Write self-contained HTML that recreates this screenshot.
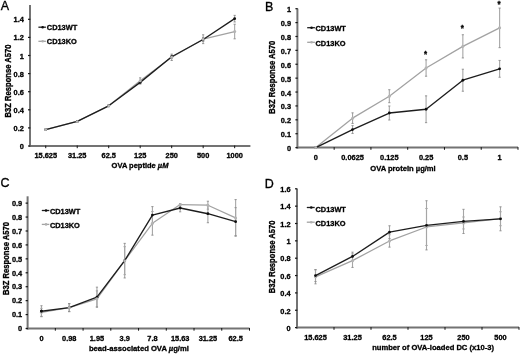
<!DOCTYPE html>
<html><head><meta charset="utf-8"><style>
html,body{margin:0;padding:0;background:#fff;}
body{width:520px;height:354px;overflow:hidden;}
svg{display:block;font-family:"Liberation Sans", sans-serif;will-change:transform;}
</style></head><body>
<svg width="520" height="354" viewBox="0 0 520 354">
<defs><filter id="soft" x="0" y="0" width="100%" height="100%"><feGaussianBlur stdDeviation="0.3"/></filter></defs>
<rect width="520" height="354" fill="#fff"/>
<g filter="url(#soft)">
<rect width="520" height="354" fill="#fff"/>
<text transform="translate(0.80,10.10) scale(1,1.06)" font-size="12.5" stroke="#000" stroke-width="0.3">A</text>
<line x1="30.00" y1="4.90" x2="30.00" y2="147.00" stroke="#737373" stroke-width="2.0"/>
<line x1="29.00" y1="146.00" x2="250.40" y2="146.00" stroke="#737373" stroke-width="2.0"/>
<line x1="28.00" y1="146.00" x2="30.30" y2="146.00" stroke="#151515" stroke-width="1.2"/>
<text transform="translate(23.80,149.05) scale(1,1.08)" font-size="7.4" font-weight="bold" text-anchor="end"  stroke="#000" stroke-width="0.3">0</text>
<line x1="28.00" y1="127.90" x2="30.30" y2="127.90" stroke="#151515" stroke-width="1.2"/>
<text transform="translate(23.80,130.95) scale(1,1.08)" font-size="7.4" font-weight="bold" text-anchor="end"  stroke="#000" stroke-width="0.3">0.2</text>
<line x1="28.00" y1="109.80" x2="30.30" y2="109.80" stroke="#151515" stroke-width="1.2"/>
<text transform="translate(23.80,112.85) scale(1,1.08)" font-size="7.4" font-weight="bold" text-anchor="end"  stroke="#000" stroke-width="0.3">0.4</text>
<line x1="28.00" y1="91.70" x2="30.30" y2="91.70" stroke="#151515" stroke-width="1.2"/>
<text transform="translate(23.80,94.75) scale(1,1.08)" font-size="7.4" font-weight="bold" text-anchor="end"  stroke="#000" stroke-width="0.3">0.6</text>
<line x1="28.00" y1="73.60" x2="30.30" y2="73.60" stroke="#151515" stroke-width="1.2"/>
<text transform="translate(23.80,76.65) scale(1,1.08)" font-size="7.4" font-weight="bold" text-anchor="end"  stroke="#000" stroke-width="0.3">0.8</text>
<line x1="28.00" y1="55.50" x2="30.30" y2="55.50" stroke="#151515" stroke-width="1.2"/>
<text transform="translate(23.80,58.55) scale(1,1.08)" font-size="7.4" font-weight="bold" text-anchor="end"  stroke="#000" stroke-width="0.3">1</text>
<line x1="28.00" y1="37.40" x2="30.30" y2="37.40" stroke="#151515" stroke-width="1.2"/>
<text transform="translate(23.80,40.45) scale(1,1.08)" font-size="7.4" font-weight="bold" text-anchor="end"  stroke="#000" stroke-width="0.3">1.2</text>
<line x1="28.00" y1="19.30" x2="30.30" y2="19.30" stroke="#151515" stroke-width="1.2"/>
<text transform="translate(23.80,22.35) scale(1,1.08)" font-size="7.4" font-weight="bold" text-anchor="end"  stroke="#000" stroke-width="0.3">1.4</text>
<line x1="45.74" y1="145.50" x2="45.74" y2="148.20" stroke="#151515" stroke-width="1.0"/>
<line x1="77.23" y1="145.50" x2="77.23" y2="148.20" stroke="#151515" stroke-width="1.0"/>
<line x1="108.71" y1="145.50" x2="108.71" y2="148.20" stroke="#151515" stroke-width="1.0"/>
<line x1="140.20" y1="145.50" x2="140.20" y2="148.20" stroke="#151515" stroke-width="1.0"/>
<line x1="171.69" y1="145.50" x2="171.69" y2="148.20" stroke="#151515" stroke-width="1.0"/>
<line x1="203.17" y1="145.50" x2="203.17" y2="148.20" stroke="#151515" stroke-width="1.0"/>
<line x1="234.66" y1="145.50" x2="234.66" y2="148.20" stroke="#151515" stroke-width="1.0"/>
<text transform="translate(45.74,157.80) scale(1,1.08)" font-size="7.4" font-weight="bold" text-anchor="middle"  stroke="#000" stroke-width="0.3">15.625</text>
<text transform="translate(77.23,157.80) scale(1,1.08)" font-size="7.4" font-weight="bold" text-anchor="middle"  stroke="#000" stroke-width="0.3">31.25</text>
<text transform="translate(108.71,157.80) scale(1,1.08)" font-size="7.4" font-weight="bold" text-anchor="middle"  stroke="#000" stroke-width="0.3">62.5</text>
<text transform="translate(140.20,157.80) scale(1,1.08)" font-size="7.4" font-weight="bold" text-anchor="middle"  stroke="#000" stroke-width="0.3">125</text>
<text transform="translate(171.69,157.80) scale(1,1.08)" font-size="7.4" font-weight="bold" text-anchor="middle"  stroke="#000" stroke-width="0.3">250</text>
<text transform="translate(203.17,157.80) scale(1,1.08)" font-size="7.4" font-weight="bold" text-anchor="middle"  stroke="#000" stroke-width="0.3">500</text>
<text transform="translate(234.66,157.80) scale(1,1.08)" font-size="7.4" font-weight="bold" text-anchor="middle"  stroke="#000" stroke-width="0.3">1000</text>
<text transform="translate(140.00,167.60) scale(1,1.08)" font-size="7.5" font-weight="bold" text-anchor="middle"  stroke="#000" stroke-width="0.3">OVA peptide <tspan font-style="italic">µM</tspan></text>
<text transform="translate(11.00,81.00) rotate(-90) scale(1,1.08)" x="0" y="0" font-size="7.62" font-weight="bold" stroke="#000" stroke-width="0.3" text-anchor="middle">B3Z Response A570</text>
<line x1="45.74" y1="129.12" x2="45.74" y2="130.12" stroke="#a6a6a6" stroke-width="1.1"/>
<line x1="44.64" y1="129.12" x2="46.84" y2="129.12" stroke="#8c8c8c" stroke-width="0.9"/>
<line x1="44.64" y1="130.12" x2="46.84" y2="130.12" stroke="#8c8c8c" stroke-width="0.9"/>
<line x1="77.23" y1="120.97" x2="77.23" y2="121.97" stroke="#a6a6a6" stroke-width="1.1"/>
<line x1="76.13" y1="120.97" x2="78.33" y2="120.97" stroke="#8c8c8c" stroke-width="0.9"/>
<line x1="76.13" y1="121.97" x2="78.33" y2="121.97" stroke="#8c8c8c" stroke-width="0.9"/>
<line x1="108.71" y1="105.02" x2="108.71" y2="106.62" stroke="#a6a6a6" stroke-width="1.1"/>
<line x1="107.61" y1="105.02" x2="109.81" y2="105.02" stroke="#8c8c8c" stroke-width="0.9"/>
<line x1="107.61" y1="106.62" x2="109.81" y2="106.62" stroke="#8c8c8c" stroke-width="0.9"/>
<line x1="140.20" y1="77.84" x2="140.20" y2="83.84" stroke="#a6a6a6" stroke-width="1.1"/>
<line x1="139.10" y1="77.84" x2="141.30" y2="77.84" stroke="#8c8c8c" stroke-width="0.9"/>
<line x1="139.10" y1="83.84" x2="141.30" y2="83.84" stroke="#8c8c8c" stroke-width="0.9"/>
<line x1="171.69" y1="54.11" x2="171.69" y2="60.51" stroke="#a6a6a6" stroke-width="1.1"/>
<line x1="170.59" y1="54.11" x2="172.79" y2="54.11" stroke="#8c8c8c" stroke-width="0.9"/>
<line x1="170.59" y1="60.51" x2="172.79" y2="60.51" stroke="#8c8c8c" stroke-width="0.9"/>
<line x1="203.17" y1="34.81" x2="203.17" y2="43.61" stroke="#a6a6a6" stroke-width="1.1"/>
<line x1="202.07" y1="34.81" x2="204.27" y2="34.81" stroke="#8c8c8c" stroke-width="0.9"/>
<line x1="202.07" y1="43.61" x2="204.27" y2="43.61" stroke="#8c8c8c" stroke-width="0.9"/>
<line x1="234.66" y1="24.22" x2="234.66" y2="38.82" stroke="#a6a6a6" stroke-width="1.1"/>
<line x1="233.56" y1="24.22" x2="235.76" y2="24.22" stroke="#8c8c8c" stroke-width="0.9"/>
<line x1="233.56" y1="38.82" x2="235.76" y2="38.82" stroke="#8c8c8c" stroke-width="0.9"/>
<line x1="45.74" y1="129.12" x2="45.74" y2="130.12" stroke="#a6a6a6" stroke-width="1.1"/>
<line x1="44.64" y1="129.12" x2="46.84" y2="129.12" stroke="#8c8c8c" stroke-width="0.9"/>
<line x1="44.64" y1="130.12" x2="46.84" y2="130.12" stroke="#8c8c8c" stroke-width="0.9"/>
<line x1="77.23" y1="120.97" x2="77.23" y2="121.97" stroke="#a6a6a6" stroke-width="1.1"/>
<line x1="76.13" y1="120.97" x2="78.33" y2="120.97" stroke="#8c8c8c" stroke-width="0.9"/>
<line x1="76.13" y1="121.97" x2="78.33" y2="121.97" stroke="#8c8c8c" stroke-width="0.9"/>
<line x1="108.71" y1="105.02" x2="108.71" y2="106.62" stroke="#a6a6a6" stroke-width="1.1"/>
<line x1="107.61" y1="105.02" x2="109.81" y2="105.02" stroke="#8c8c8c" stroke-width="0.9"/>
<line x1="107.61" y1="106.62" x2="109.81" y2="106.62" stroke="#8c8c8c" stroke-width="0.9"/>
<line x1="140.20" y1="80.88" x2="140.20" y2="83.88" stroke="#a6a6a6" stroke-width="1.1"/>
<line x1="139.10" y1="80.88" x2="141.30" y2="80.88" stroke="#8c8c8c" stroke-width="0.9"/>
<line x1="139.10" y1="83.88" x2="141.30" y2="83.88" stroke="#8c8c8c" stroke-width="0.9"/>
<line x1="171.69" y1="55.27" x2="171.69" y2="58.27" stroke="#a6a6a6" stroke-width="1.1"/>
<line x1="170.59" y1="55.27" x2="172.79" y2="55.27" stroke="#8c8c8c" stroke-width="0.9"/>
<line x1="170.59" y1="58.27" x2="172.79" y2="58.27" stroke="#8c8c8c" stroke-width="0.9"/>
<line x1="203.17" y1="37.48" x2="203.17" y2="41.48" stroke="#a6a6a6" stroke-width="1.1"/>
<line x1="202.07" y1="37.48" x2="204.27" y2="37.48" stroke="#8c8c8c" stroke-width="0.9"/>
<line x1="202.07" y1="41.48" x2="204.27" y2="41.48" stroke="#8c8c8c" stroke-width="0.9"/>
<line x1="234.66" y1="15.37" x2="234.66" y2="21.97" stroke="#a6a6a6" stroke-width="1.1"/>
<line x1="233.56" y1="15.37" x2="235.76" y2="15.37" stroke="#8c8c8c" stroke-width="0.9"/>
<line x1="233.56" y1="21.97" x2="235.76" y2="21.97" stroke="#8c8c8c" stroke-width="0.9"/>
<polyline points="45.74,129.62 77.23,121.47 108.71,105.82 140.20,80.84 171.69,57.31 203.17,39.21 234.66,31.52" fill="none" stroke="#a2a2a2" stroke-width="1.25" stroke-linejoin="round"/>
<polyline points="45.74,129.62 77.23,121.47 108.71,105.82 140.20,82.38 171.69,56.77 203.17,39.48 234.66,18.67" fill="none" stroke="#1e1e1e" stroke-width="1.35" stroke-linejoin="round"/>
<circle cx="45.74" cy="129.62" r="1.4" fill="#111"/>
<circle cx="77.23" cy="121.47" r="1.4" fill="#111"/>
<circle cx="108.71" cy="105.82" r="1.4" fill="#111"/>
<circle cx="140.20" cy="82.38" r="1.4" fill="#111"/>
<circle cx="171.69" cy="56.77" r="1.4" fill="#111"/>
<circle cx="203.17" cy="39.48" r="1.4" fill="#111"/>
<circle cx="234.66" cy="18.67" r="1.4" fill="#111"/>
<circle cx="45.74" cy="129.62" r="1.5" fill="#b4b4b4"/>
<circle cx="77.23" cy="121.47" r="1.5" fill="#b4b4b4"/>
<circle cx="108.71" cy="105.82" r="1.5" fill="#b4b4b4"/>
<circle cx="140.20" cy="80.84" r="1.5" fill="#b4b4b4"/>
<circle cx="171.69" cy="57.31" r="1.5" fill="#b4b4b4"/>
<circle cx="203.17" cy="39.21" r="1.5" fill="#b4b4b4"/>
<circle cx="234.66" cy="31.52" r="1.5" fill="#b4b4b4"/>
<line x1="38.40" y1="27.20" x2="45.90" y2="27.20" stroke="#1e1e1e" stroke-width="1.3"/>
<circle cx="42.65" cy="27.20" r="1.3" fill="#111"/>
<line x1="38.40" y1="41.30" x2="45.90" y2="41.30" stroke="#a2a2a2" stroke-width="1.3"/>
<circle cx="42.65" cy="41.30" r="1.3" fill="#b0b0b0"/>
<text transform="translate(46.80,30.30) scale(1,1.08)" font-size="7.4" font-weight="bold" text-anchor="start"  stroke="#000" stroke-width="0.3">CD13WT</text>
<text transform="translate(46.80,44.40) scale(1,1.08)" font-size="7.4" font-weight="bold" text-anchor="start"  stroke="#000" stroke-width="0.3">CD13KO</text>
<text transform="translate(264.90,10.50) scale(1,1.06)" font-size="12.5" stroke="#000" stroke-width="0.3">B</text>
<line x1="297.40" y1="8.60" x2="297.40" y2="148.60" stroke="#737373" stroke-width="2.0"/>
<line x1="296.40" y1="147.60" x2="518.00" y2="147.60" stroke="#737373" stroke-width="2.0"/>
<line x1="295.40" y1="147.60" x2="297.70" y2="147.60" stroke="#151515" stroke-width="1.2"/>
<text transform="translate(291.00,151.15) scale(1,1.08)" font-size="7.4" font-weight="bold" text-anchor="end"  stroke="#000" stroke-width="0.3">0</text>
<line x1="295.40" y1="133.71" x2="297.70" y2="133.71" stroke="#151515" stroke-width="1.2"/>
<text transform="translate(291.00,137.26) scale(1,1.08)" font-size="7.4" font-weight="bold" text-anchor="end"  stroke="#000" stroke-width="0.3">0.1</text>
<line x1="295.40" y1="119.82" x2="297.70" y2="119.82" stroke="#151515" stroke-width="1.2"/>
<text transform="translate(291.00,123.37) scale(1,1.08)" font-size="7.4" font-weight="bold" text-anchor="end"  stroke="#000" stroke-width="0.3">0.2</text>
<line x1="295.40" y1="105.93" x2="297.70" y2="105.93" stroke="#151515" stroke-width="1.2"/>
<text transform="translate(291.00,109.48) scale(1,1.08)" font-size="7.4" font-weight="bold" text-anchor="end"  stroke="#000" stroke-width="0.3">0.3</text>
<line x1="295.40" y1="92.04" x2="297.70" y2="92.04" stroke="#151515" stroke-width="1.2"/>
<text transform="translate(291.00,95.59) scale(1,1.08)" font-size="7.4" font-weight="bold" text-anchor="end"  stroke="#000" stroke-width="0.3">0.4</text>
<line x1="295.40" y1="78.15" x2="297.70" y2="78.15" stroke="#151515" stroke-width="1.2"/>
<text transform="translate(291.00,81.70) scale(1,1.08)" font-size="7.4" font-weight="bold" text-anchor="end"  stroke="#000" stroke-width="0.3">0.5</text>
<line x1="295.40" y1="64.26" x2="297.70" y2="64.26" stroke="#151515" stroke-width="1.2"/>
<text transform="translate(291.00,67.81) scale(1,1.08)" font-size="7.4" font-weight="bold" text-anchor="end"  stroke="#000" stroke-width="0.3">0.6</text>
<line x1="295.40" y1="50.37" x2="297.70" y2="50.37" stroke="#151515" stroke-width="1.2"/>
<text transform="translate(291.00,53.92) scale(1,1.08)" font-size="7.4" font-weight="bold" text-anchor="end"  stroke="#000" stroke-width="0.3">0.7</text>
<line x1="295.40" y1="36.48" x2="297.70" y2="36.48" stroke="#151515" stroke-width="1.2"/>
<text transform="translate(291.00,40.03) scale(1,1.08)" font-size="7.4" font-weight="bold" text-anchor="end"  stroke="#000" stroke-width="0.3">0.8</text>
<line x1="295.40" y1="22.59" x2="297.70" y2="22.59" stroke="#151515" stroke-width="1.2"/>
<text transform="translate(291.00,26.14) scale(1,1.08)" font-size="7.4" font-weight="bold" text-anchor="end"  stroke="#000" stroke-width="0.3">0.9</text>
<line x1="295.40" y1="8.70" x2="297.70" y2="8.70" stroke="#151515" stroke-width="1.2"/>
<text transform="translate(291.00,12.25) scale(1,1.08)" font-size="7.4" font-weight="bold" text-anchor="end"  stroke="#000" stroke-width="0.3">1</text>
<line x1="334.17" y1="147.10" x2="334.17" y2="149.80" stroke="#151515" stroke-width="1.0"/>
<line x1="370.93" y1="147.10" x2="370.93" y2="149.80" stroke="#151515" stroke-width="1.0"/>
<line x1="407.70" y1="147.10" x2="407.70" y2="149.80" stroke="#151515" stroke-width="1.0"/>
<line x1="444.47" y1="147.10" x2="444.47" y2="149.80" stroke="#151515" stroke-width="1.0"/>
<line x1="481.23" y1="147.10" x2="481.23" y2="149.80" stroke="#151515" stroke-width="1.0"/>
<line x1="518.00" y1="147.10" x2="518.00" y2="149.80" stroke="#151515" stroke-width="1.0"/>
<text transform="translate(315.78,160.20) scale(1,1.08)" font-size="7.4" font-weight="bold" text-anchor="middle"  stroke="#000" stroke-width="0.3">0</text>
<text transform="translate(352.55,160.20) scale(1,1.08)" font-size="7.4" font-weight="bold" text-anchor="middle"  stroke="#000" stroke-width="0.3">0.0625</text>
<text transform="translate(389.32,160.20) scale(1,1.08)" font-size="7.4" font-weight="bold" text-anchor="middle"  stroke="#000" stroke-width="0.3">0.125</text>
<text transform="translate(426.08,160.20) scale(1,1.08)" font-size="7.4" font-weight="bold" text-anchor="middle"  stroke="#000" stroke-width="0.3">0.25</text>
<text transform="translate(462.85,160.20) scale(1,1.08)" font-size="7.4" font-weight="bold" text-anchor="middle"  stroke="#000" stroke-width="0.3">0.5</text>
<text transform="translate(499.62,160.20) scale(1,1.08)" font-size="7.4" font-weight="bold" text-anchor="middle"  stroke="#000" stroke-width="0.3">1</text>
<text transform="translate(403.00,171.10) scale(1,1.0)" font-size="7.58" font-weight="bold" text-anchor="middle"  stroke="#000" stroke-width="0.3">OVA protein µg/ml</text>
<text transform="translate(275.20,77.20) rotate(-90) scale(1,1.08)" x="0" y="0" font-size="7.62" font-weight="bold" stroke="#000" stroke-width="0.3" text-anchor="middle">B3Z Response A570</text>
<line x1="352.55" y1="112.85" x2="352.55" y2="123.45" stroke="#a6a6a6" stroke-width="1.1"/>
<line x1="351.45" y1="112.85" x2="353.65" y2="112.85" stroke="#8c8c8c" stroke-width="0.9"/>
<line x1="351.45" y1="123.45" x2="353.65" y2="123.45" stroke="#8c8c8c" stroke-width="0.9"/>
<line x1="389.32" y1="89.71" x2="389.32" y2="102.71" stroke="#a6a6a6" stroke-width="1.1"/>
<line x1="388.22" y1="89.71" x2="390.42" y2="89.71" stroke="#8c8c8c" stroke-width="0.9"/>
<line x1="388.22" y1="102.71" x2="390.42" y2="102.71" stroke="#8c8c8c" stroke-width="0.9"/>
<line x1="426.08" y1="59.81" x2="426.08" y2="76.21" stroke="#a6a6a6" stroke-width="1.1"/>
<line x1="424.98" y1="59.81" x2="427.18" y2="59.81" stroke="#8c8c8c" stroke-width="0.9"/>
<line x1="424.98" y1="76.21" x2="427.18" y2="76.21" stroke="#8c8c8c" stroke-width="0.9"/>
<line x1="462.85" y1="34.74" x2="462.85" y2="57.94" stroke="#a6a6a6" stroke-width="1.1"/>
<line x1="461.75" y1="34.74" x2="463.95" y2="34.74" stroke="#8c8c8c" stroke-width="0.9"/>
<line x1="461.75" y1="57.94" x2="463.95" y2="57.94" stroke="#8c8c8c" stroke-width="0.9"/>
<line x1="499.62" y1="8.07" x2="499.62" y2="47.67" stroke="#a6a6a6" stroke-width="1.1"/>
<line x1="498.52" y1="8.07" x2="500.72" y2="8.07" stroke="#8c8c8c" stroke-width="0.9"/>
<line x1="498.52" y1="47.67" x2="500.72" y2="47.67" stroke="#8c8c8c" stroke-width="0.9"/>
<line x1="352.55" y1="125.64" x2="352.55" y2="133.44" stroke="#a6a6a6" stroke-width="1.1"/>
<line x1="351.45" y1="125.64" x2="353.65" y2="125.64" stroke="#8c8c8c" stroke-width="0.9"/>
<line x1="351.45" y1="133.44" x2="353.65" y2="133.44" stroke="#8c8c8c" stroke-width="0.9"/>
<line x1="389.32" y1="106.01" x2="389.32" y2="120.01" stroke="#a6a6a6" stroke-width="1.1"/>
<line x1="388.22" y1="106.01" x2="390.42" y2="106.01" stroke="#8c8c8c" stroke-width="0.9"/>
<line x1="388.22" y1="120.01" x2="390.42" y2="120.01" stroke="#8c8c8c" stroke-width="0.9"/>
<line x1="426.08" y1="95.86" x2="426.08" y2="122.66" stroke="#a6a6a6" stroke-width="1.1"/>
<line x1="424.98" y1="95.86" x2="427.18" y2="95.86" stroke="#8c8c8c" stroke-width="0.9"/>
<line x1="424.98" y1="122.66" x2="427.18" y2="122.66" stroke="#8c8c8c" stroke-width="0.9"/>
<line x1="462.85" y1="69.23" x2="462.85" y2="91.23" stroke="#a6a6a6" stroke-width="1.1"/>
<line x1="461.75" y1="69.23" x2="463.95" y2="69.23" stroke="#8c8c8c" stroke-width="0.9"/>
<line x1="461.75" y1="91.23" x2="463.95" y2="91.23" stroke="#8c8c8c" stroke-width="0.9"/>
<line x1="499.62" y1="60.44" x2="499.62" y2="77.24" stroke="#a6a6a6" stroke-width="1.1"/>
<line x1="498.52" y1="60.44" x2="500.72" y2="60.44" stroke="#8c8c8c" stroke-width="0.9"/>
<line x1="498.52" y1="77.24" x2="500.72" y2="77.24" stroke="#8c8c8c" stroke-width="0.9"/>
<polyline points="315.78,147.60 352.55,118.15 389.32,96.21 426.08,68.01 462.85,46.34 499.62,27.87" fill="none" stroke="#a2a2a2" stroke-width="1.25" stroke-linejoin="round"/>
<polyline points="315.78,147.60 352.55,129.54 389.32,113.01 426.08,109.26 462.85,80.23 499.62,68.84" fill="none" stroke="#1e1e1e" stroke-width="1.35" stroke-linejoin="round"/>
<circle cx="315.78" cy="147.60" r="1.4" fill="#111"/>
<circle cx="352.55" cy="129.54" r="1.4" fill="#111"/>
<circle cx="389.32" cy="113.01" r="1.4" fill="#111"/>
<circle cx="426.08" cy="109.26" r="1.4" fill="#111"/>
<circle cx="462.85" cy="80.23" r="1.4" fill="#111"/>
<circle cx="499.62" cy="68.84" r="1.4" fill="#111"/>
<circle cx="315.78" cy="147.60" r="1.5" fill="#b4b4b4"/>
<circle cx="352.55" cy="118.15" r="1.5" fill="#b4b4b4"/>
<circle cx="389.32" cy="96.21" r="1.5" fill="#b4b4b4"/>
<circle cx="426.08" cy="68.01" r="1.5" fill="#b4b4b4"/>
<circle cx="462.85" cy="46.34" r="1.5" fill="#b4b4b4"/>
<circle cx="499.62" cy="27.87" r="1.5" fill="#b4b4b4"/>
<text transform="translate(425.58,57.40) scale(1,1.08)" font-size="8" font-weight="bold" text-anchor="middle"  stroke="#000" stroke-width="0.3">*</text>
<text transform="translate(462.35,31.10) scale(1,1.08)" font-size="8" font-weight="bold" text-anchor="middle"  stroke="#000" stroke-width="0.3">*</text>
<text transform="translate(499.12,7.20) scale(1,1.08)" font-size="8" font-weight="bold" text-anchor="middle"  stroke="#000" stroke-width="0.3">*</text>
<line x1="307.20" y1="27.70" x2="314.90" y2="27.70" stroke="#1e1e1e" stroke-width="1.3"/>
<circle cx="311.55" cy="27.70" r="1.3" fill="#111"/>
<line x1="307.20" y1="42.30" x2="314.90" y2="42.30" stroke="#a2a2a2" stroke-width="1.3"/>
<circle cx="311.55" cy="42.30" r="1.3" fill="#b0b0b0"/>
<text transform="translate(315.50,31.10) scale(1,1.08)" font-size="7.4" font-weight="bold" text-anchor="start"  stroke="#000" stroke-width="0.3">CD13WT</text>
<text transform="translate(315.50,45.70) scale(1,1.08)" font-size="7.4" font-weight="bold" text-anchor="start"  stroke="#000" stroke-width="0.3">CD13KO</text>
<text transform="translate(0.60,187.40) scale(1,1.06)" font-size="12.5" stroke="#000" stroke-width="0.3">C</text>
<line x1="27.60" y1="196.30" x2="27.60" y2="329.50" stroke="#737373" stroke-width="2.0"/>
<line x1="26.60" y1="328.50" x2="249.50" y2="328.50" stroke="#737373" stroke-width="2.0"/>
<line x1="25.60" y1="328.50" x2="27.90" y2="328.50" stroke="#151515" stroke-width="1.2"/>
<text transform="translate(22.20,331.25) scale(1,1.08)" font-size="7.4" font-weight="bold" text-anchor="end"  stroke="#000" stroke-width="0.3">0</text>
<line x1="25.60" y1="314.57" x2="27.90" y2="314.57" stroke="#151515" stroke-width="1.2"/>
<text transform="translate(22.20,317.32) scale(1,1.08)" font-size="7.4" font-weight="bold" text-anchor="end"  stroke="#000" stroke-width="0.3">0.1</text>
<line x1="25.60" y1="300.64" x2="27.90" y2="300.64" stroke="#151515" stroke-width="1.2"/>
<text transform="translate(22.20,303.39) scale(1,1.08)" font-size="7.4" font-weight="bold" text-anchor="end"  stroke="#000" stroke-width="0.3">0.2</text>
<line x1="25.60" y1="286.71" x2="27.90" y2="286.71" stroke="#151515" stroke-width="1.2"/>
<text transform="translate(22.20,289.46) scale(1,1.08)" font-size="7.4" font-weight="bold" text-anchor="end"  stroke="#000" stroke-width="0.3">0.3</text>
<line x1="25.60" y1="272.78" x2="27.90" y2="272.78" stroke="#151515" stroke-width="1.2"/>
<text transform="translate(22.20,275.53) scale(1,1.08)" font-size="7.4" font-weight="bold" text-anchor="end"  stroke="#000" stroke-width="0.3">0.4</text>
<line x1="25.60" y1="258.85" x2="27.90" y2="258.85" stroke="#151515" stroke-width="1.2"/>
<text transform="translate(22.20,261.60) scale(1,1.08)" font-size="7.4" font-weight="bold" text-anchor="end"  stroke="#000" stroke-width="0.3">0.5</text>
<line x1="25.60" y1="244.92" x2="27.90" y2="244.92" stroke="#151515" stroke-width="1.2"/>
<text transform="translate(22.20,247.67) scale(1,1.08)" font-size="7.4" font-weight="bold" text-anchor="end"  stroke="#000" stroke-width="0.3">0.6</text>
<line x1="25.60" y1="230.99" x2="27.90" y2="230.99" stroke="#151515" stroke-width="1.2"/>
<text transform="translate(22.20,233.74) scale(1,1.08)" font-size="7.4" font-weight="bold" text-anchor="end"  stroke="#000" stroke-width="0.3">0.7</text>
<line x1="25.60" y1="217.06" x2="27.90" y2="217.06" stroke="#151515" stroke-width="1.2"/>
<text transform="translate(22.20,219.81) scale(1,1.08)" font-size="7.4" font-weight="bold" text-anchor="end"  stroke="#000" stroke-width="0.3">0.8</text>
<line x1="25.60" y1="203.13" x2="27.90" y2="203.13" stroke="#151515" stroke-width="1.2"/>
<text transform="translate(22.20,205.88) scale(1,1.08)" font-size="7.4" font-weight="bold" text-anchor="end"  stroke="#000" stroke-width="0.3">0.9</text>
<line x1="55.34" y1="328.00" x2="55.34" y2="330.70" stroke="#151515" stroke-width="1.0"/>
<line x1="83.08" y1="328.00" x2="83.08" y2="330.70" stroke="#151515" stroke-width="1.0"/>
<line x1="110.81" y1="328.00" x2="110.81" y2="330.70" stroke="#151515" stroke-width="1.0"/>
<line x1="138.55" y1="328.00" x2="138.55" y2="330.70" stroke="#151515" stroke-width="1.0"/>
<line x1="166.29" y1="328.00" x2="166.29" y2="330.70" stroke="#151515" stroke-width="1.0"/>
<line x1="194.03" y1="328.00" x2="194.03" y2="330.70" stroke="#151515" stroke-width="1.0"/>
<line x1="221.76" y1="328.00" x2="221.76" y2="330.70" stroke="#151515" stroke-width="1.0"/>
<line x1="249.50" y1="328.00" x2="249.50" y2="330.70" stroke="#151515" stroke-width="1.0"/>
<text transform="translate(41.47,340.70) scale(1,1.08)" font-size="7.4" font-weight="bold" text-anchor="middle"  stroke="#000" stroke-width="0.3">0</text>
<text transform="translate(69.21,340.70) scale(1,1.08)" font-size="7.4" font-weight="bold" text-anchor="middle"  stroke="#000" stroke-width="0.3">0.98</text>
<text transform="translate(96.94,340.70) scale(1,1.08)" font-size="7.4" font-weight="bold" text-anchor="middle"  stroke="#000" stroke-width="0.3">1.95</text>
<text transform="translate(124.68,340.70) scale(1,1.08)" font-size="7.4" font-weight="bold" text-anchor="middle"  stroke="#000" stroke-width="0.3">3.9</text>
<text transform="translate(152.42,340.70) scale(1,1.08)" font-size="7.4" font-weight="bold" text-anchor="middle"  stroke="#000" stroke-width="0.3">7.8</text>
<text transform="translate(180.16,340.70) scale(1,1.08)" font-size="7.4" font-weight="bold" text-anchor="middle"  stroke="#000" stroke-width="0.3">15.63</text>
<text transform="translate(207.89,340.70) scale(1,1.08)" font-size="7.4" font-weight="bold" text-anchor="middle"  stroke="#000" stroke-width="0.3">31.25</text>
<text transform="translate(235.63,340.70) scale(1,1.08)" font-size="7.4" font-weight="bold" text-anchor="middle"  stroke="#000" stroke-width="0.3">62.5</text>
<text transform="translate(138.90,350.80) scale(1,1.0)" font-size="7.65" font-weight="bold" text-anchor="middle"  stroke="#000" stroke-width="0.3">bead-associated OVA <tspan font-style="italic">µ</tspan>g/ml</text>
<text transform="translate(9.10,258.50) rotate(-90) scale(1,1.08)" x="0" y="0" font-size="7.62" font-weight="bold" stroke="#000" stroke-width="0.3" text-anchor="middle">B3Z Response A570</text>
<line x1="41.47" y1="308.34" x2="41.47" y2="316.34" stroke="#a6a6a6" stroke-width="1.1"/>
<line x1="40.37" y1="308.34" x2="42.57" y2="308.34" stroke="#8c8c8c" stroke-width="0.9"/>
<line x1="40.37" y1="316.34" x2="42.57" y2="316.34" stroke="#8c8c8c" stroke-width="0.9"/>
<line x1="69.21" y1="303.61" x2="69.21" y2="311.61" stroke="#a6a6a6" stroke-width="1.1"/>
<line x1="68.11" y1="303.61" x2="70.31" y2="303.61" stroke="#8c8c8c" stroke-width="0.9"/>
<line x1="68.11" y1="311.61" x2="70.31" y2="311.61" stroke="#8c8c8c" stroke-width="0.9"/>
<line x1="96.94" y1="290.83" x2="96.94" y2="306.83" stroke="#a6a6a6" stroke-width="1.1"/>
<line x1="95.84" y1="290.83" x2="98.04" y2="290.83" stroke="#8c8c8c" stroke-width="0.9"/>
<line x1="95.84" y1="306.83" x2="98.04" y2="306.83" stroke="#8c8c8c" stroke-width="0.9"/>
<line x1="124.68" y1="246.66" x2="124.68" y2="274.66" stroke="#a6a6a6" stroke-width="1.1"/>
<line x1="123.58" y1="246.66" x2="125.78" y2="246.66" stroke="#8c8c8c" stroke-width="0.9"/>
<line x1="123.58" y1="274.66" x2="125.78" y2="274.66" stroke="#8c8c8c" stroke-width="0.9"/>
<line x1="152.42" y1="211.53" x2="152.42" y2="235.13" stroke="#a6a6a6" stroke-width="1.1"/>
<line x1="151.32" y1="211.53" x2="153.52" y2="211.53" stroke="#8c8c8c" stroke-width="0.9"/>
<line x1="151.32" y1="235.13" x2="153.52" y2="235.13" stroke="#8c8c8c" stroke-width="0.9"/>
<line x1="180.16" y1="203.52" x2="180.16" y2="205.52" stroke="#a6a6a6" stroke-width="1.1"/>
<line x1="179.06" y1="203.52" x2="181.26" y2="203.52" stroke="#8c8c8c" stroke-width="0.9"/>
<line x1="179.06" y1="205.52" x2="181.26" y2="205.52" stroke="#8c8c8c" stroke-width="0.9"/>
<line x1="207.89" y1="201.22" x2="207.89" y2="209.22" stroke="#a6a6a6" stroke-width="1.1"/>
<line x1="206.79" y1="201.22" x2="208.99" y2="201.22" stroke="#8c8c8c" stroke-width="0.9"/>
<line x1="206.79" y1="209.22" x2="208.99" y2="209.22" stroke="#8c8c8c" stroke-width="0.9"/>
<line x1="235.63" y1="199.60" x2="235.63" y2="236.20" stroke="#a6a6a6" stroke-width="1.1"/>
<line x1="234.53" y1="199.60" x2="236.73" y2="199.60" stroke="#8c8c8c" stroke-width="0.9"/>
<line x1="234.53" y1="236.20" x2="236.73" y2="236.20" stroke="#8c8c8c" stroke-width="0.9"/>
<line x1="41.47" y1="305.73" x2="41.47" y2="316.73" stroke="#a6a6a6" stroke-width="1.1"/>
<line x1="40.37" y1="305.73" x2="42.57" y2="305.73" stroke="#8c8c8c" stroke-width="0.9"/>
<line x1="40.37" y1="316.73" x2="42.57" y2="316.73" stroke="#8c8c8c" stroke-width="0.9"/>
<line x1="69.21" y1="303.61" x2="69.21" y2="311.61" stroke="#a6a6a6" stroke-width="1.1"/>
<line x1="68.11" y1="303.61" x2="70.31" y2="303.61" stroke="#8c8c8c" stroke-width="0.9"/>
<line x1="68.11" y1="311.61" x2="70.31" y2="311.61" stroke="#8c8c8c" stroke-width="0.9"/>
<line x1="96.94" y1="287.16" x2="96.94" y2="307.16" stroke="#a6a6a6" stroke-width="1.1"/>
<line x1="95.84" y1="287.16" x2="98.04" y2="287.16" stroke="#8c8c8c" stroke-width="0.9"/>
<line x1="95.84" y1="307.16" x2="98.04" y2="307.16" stroke="#8c8c8c" stroke-width="0.9"/>
<line x1="124.68" y1="243.36" x2="124.68" y2="277.96" stroke="#a6a6a6" stroke-width="1.1"/>
<line x1="123.58" y1="243.36" x2="125.78" y2="243.36" stroke="#8c8c8c" stroke-width="0.9"/>
<line x1="123.58" y1="277.96" x2="125.78" y2="277.96" stroke="#8c8c8c" stroke-width="0.9"/>
<line x1="152.42" y1="206.61" x2="152.42" y2="223.61" stroke="#a6a6a6" stroke-width="1.1"/>
<line x1="151.32" y1="206.61" x2="153.52" y2="206.61" stroke="#8c8c8c" stroke-width="0.9"/>
<line x1="151.32" y1="223.61" x2="153.52" y2="223.61" stroke="#8c8c8c" stroke-width="0.9"/>
<line x1="180.16" y1="204.21" x2="180.16" y2="211.81" stroke="#a6a6a6" stroke-width="1.1"/>
<line x1="179.06" y1="204.21" x2="181.26" y2="204.21" stroke="#8c8c8c" stroke-width="0.9"/>
<line x1="179.06" y1="211.81" x2="181.26" y2="211.81" stroke="#8c8c8c" stroke-width="0.9"/>
<line x1="207.89" y1="204.72" x2="207.89" y2="222.72" stroke="#a6a6a6" stroke-width="1.1"/>
<line x1="206.79" y1="204.72" x2="208.99" y2="204.72" stroke="#8c8c8c" stroke-width="0.9"/>
<line x1="206.79" y1="222.72" x2="208.99" y2="222.72" stroke="#8c8c8c" stroke-width="0.9"/>
<line x1="235.63" y1="207.66" x2="235.63" y2="235.66" stroke="#a6a6a6" stroke-width="1.1"/>
<line x1="234.53" y1="207.66" x2="236.73" y2="207.66" stroke="#8c8c8c" stroke-width="0.9"/>
<line x1="234.53" y1="235.66" x2="236.73" y2="235.66" stroke="#8c8c8c" stroke-width="0.9"/>
<polyline points="41.47,312.34 69.21,307.61 96.94,298.83 124.68,260.66 152.42,223.33 180.16,204.52 207.89,205.22 235.63,217.90" fill="none" stroke="#a2a2a2" stroke-width="1.25" stroke-linejoin="round"/>
<polyline points="41.47,311.23 69.21,307.61 96.94,297.16 124.68,260.66 152.42,215.11 180.16,208.01 207.89,213.72 235.63,221.66" fill="none" stroke="#1e1e1e" stroke-width="1.35" stroke-linejoin="round"/>
<circle cx="41.47" cy="311.23" r="1.4" fill="#111"/>
<circle cx="69.21" cy="307.61" r="1.4" fill="#111"/>
<circle cx="96.94" cy="297.16" r="1.4" fill="#111"/>
<circle cx="124.68" cy="260.66" r="1.4" fill="#111"/>
<circle cx="152.42" cy="215.11" r="1.4" fill="#111"/>
<circle cx="180.16" cy="208.01" r="1.4" fill="#111"/>
<circle cx="207.89" cy="213.72" r="1.4" fill="#111"/>
<circle cx="235.63" cy="221.66" r="1.4" fill="#111"/>
<circle cx="41.47" cy="312.34" r="1.5" fill="#b4b4b4"/>
<circle cx="69.21" cy="307.61" r="1.5" fill="#b4b4b4"/>
<circle cx="96.94" cy="298.83" r="1.5" fill="#b4b4b4"/>
<circle cx="124.68" cy="260.66" r="1.5" fill="#b4b4b4"/>
<circle cx="152.42" cy="223.33" r="1.5" fill="#b4b4b4"/>
<circle cx="180.16" cy="204.52" r="1.5" fill="#b4b4b4"/>
<circle cx="207.89" cy="205.22" r="1.5" fill="#b4b4b4"/>
<circle cx="235.63" cy="217.90" r="1.5" fill="#b4b4b4"/>
<circle cx="41.47" cy="311.23" r="1.4" fill="#111"/>
<line x1="41.80" y1="210.50" x2="49.30" y2="210.50" stroke="#1e1e1e" stroke-width="1.3"/>
<circle cx="46.05" cy="210.50" r="1.3" fill="#111"/>
<line x1="41.80" y1="224.40" x2="49.30" y2="224.40" stroke="#a2a2a2" stroke-width="1.3"/>
<circle cx="46.05" cy="224.40" r="1.3" fill="#b0b0b0"/>
<text transform="translate(49.90,214.20) scale(1,1.08)" font-size="7.4" font-weight="bold" text-anchor="start"  stroke="#000" stroke-width="0.3">CD13WT</text>
<text transform="translate(49.90,228.10) scale(1,1.08)" font-size="7.4" font-weight="bold" text-anchor="start"  stroke="#000" stroke-width="0.3">CD13KO</text>
<text transform="translate(264.80,187.70) scale(1,1.06)" font-size="12.5" stroke="#000" stroke-width="0.3">D</text>
<line x1="297.00" y1="188.80" x2="297.00" y2="328.60" stroke="#737373" stroke-width="2.0"/>
<line x1="296.00" y1="327.60" x2="519.00" y2="327.60" stroke="#737373" stroke-width="2.0"/>
<line x1="295.00" y1="327.60" x2="297.30" y2="327.60" stroke="#151515" stroke-width="1.2"/>
<text transform="translate(290.60,330.85) scale(1,1.08)" font-size="7.4" font-weight="bold" text-anchor="end"  stroke="#000" stroke-width="0.3">0</text>
<line x1="295.00" y1="310.25" x2="297.30" y2="310.25" stroke="#151515" stroke-width="1.2"/>
<text transform="translate(290.60,313.50) scale(1,1.08)" font-size="7.4" font-weight="bold" text-anchor="end"  stroke="#000" stroke-width="0.3">0.2</text>
<line x1="295.00" y1="292.90" x2="297.30" y2="292.90" stroke="#151515" stroke-width="1.2"/>
<text transform="translate(290.60,296.15) scale(1,1.08)" font-size="7.4" font-weight="bold" text-anchor="end"  stroke="#000" stroke-width="0.3">0.4</text>
<line x1="295.00" y1="275.55" x2="297.30" y2="275.55" stroke="#151515" stroke-width="1.2"/>
<text transform="translate(290.60,278.80) scale(1,1.08)" font-size="7.4" font-weight="bold" text-anchor="end"  stroke="#000" stroke-width="0.3">0.6</text>
<line x1="295.00" y1="258.20" x2="297.30" y2="258.20" stroke="#151515" stroke-width="1.2"/>
<text transform="translate(290.60,261.45) scale(1,1.08)" font-size="7.4" font-weight="bold" text-anchor="end"  stroke="#000" stroke-width="0.3">0.8</text>
<line x1="295.00" y1="240.85" x2="297.30" y2="240.85" stroke="#151515" stroke-width="1.2"/>
<text transform="translate(290.60,244.10) scale(1,1.08)" font-size="7.4" font-weight="bold" text-anchor="end"  stroke="#000" stroke-width="0.3">1</text>
<line x1="295.00" y1="223.50" x2="297.30" y2="223.50" stroke="#151515" stroke-width="1.2"/>
<text transform="translate(290.60,226.75) scale(1,1.08)" font-size="7.4" font-weight="bold" text-anchor="end"  stroke="#000" stroke-width="0.3">1.2</text>
<line x1="295.00" y1="206.15" x2="297.30" y2="206.15" stroke="#151515" stroke-width="1.2"/>
<text transform="translate(290.60,209.40) scale(1,1.08)" font-size="7.4" font-weight="bold" text-anchor="end"  stroke="#000" stroke-width="0.3">1.4</text>
<line x1="295.00" y1="188.80" x2="297.30" y2="188.80" stroke="#151515" stroke-width="1.2"/>
<text transform="translate(290.60,192.05) scale(1,1.08)" font-size="7.4" font-weight="bold" text-anchor="end"  stroke="#000" stroke-width="0.3">1.6</text>
<line x1="334.00" y1="327.10" x2="334.00" y2="329.80" stroke="#151515" stroke-width="1.0"/>
<line x1="371.00" y1="327.10" x2="371.00" y2="329.80" stroke="#151515" stroke-width="1.0"/>
<line x1="408.00" y1="327.10" x2="408.00" y2="329.80" stroke="#151515" stroke-width="1.0"/>
<line x1="445.00" y1="327.10" x2="445.00" y2="329.80" stroke="#151515" stroke-width="1.0"/>
<line x1="482.00" y1="327.10" x2="482.00" y2="329.80" stroke="#151515" stroke-width="1.0"/>
<line x1="519.00" y1="327.10" x2="519.00" y2="329.80" stroke="#151515" stroke-width="1.0"/>
<text transform="translate(315.50,340.30) scale(1,1.08)" font-size="7.4" font-weight="bold" text-anchor="middle"  stroke="#000" stroke-width="0.3">15.625</text>
<text transform="translate(352.50,340.30) scale(1,1.08)" font-size="7.4" font-weight="bold" text-anchor="middle"  stroke="#000" stroke-width="0.3">31.25</text>
<text transform="translate(389.50,340.30) scale(1,1.08)" font-size="7.4" font-weight="bold" text-anchor="middle"  stroke="#000" stroke-width="0.3">62.5</text>
<text transform="translate(426.50,340.30) scale(1,1.08)" font-size="7.4" font-weight="bold" text-anchor="middle"  stroke="#000" stroke-width="0.3">125</text>
<text transform="translate(463.50,340.30) scale(1,1.08)" font-size="7.4" font-weight="bold" text-anchor="middle"  stroke="#000" stroke-width="0.3">250</text>
<text transform="translate(500.50,340.30) scale(1,1.08)" font-size="7.4" font-weight="bold" text-anchor="middle"  stroke="#000" stroke-width="0.3">500</text>
<text transform="translate(433.05,349.60) scale(1,0.98)" font-size="7.6" font-weight="bold" text-anchor="middle"  stroke="#000" stroke-width="0.3">number of OVA-loaded DC (x10-3)</text>
<text transform="translate(275.25,256.90) rotate(-90) scale(1,1.08)" x="0" y="0" font-size="7.62" font-weight="bold" stroke="#000" stroke-width="0.3" text-anchor="middle">B3Z Response A570</text>
<line x1="315.50" y1="269.85" x2="315.50" y2="283.85" stroke="#a6a6a6" stroke-width="1.1"/>
<line x1="314.40" y1="269.85" x2="316.60" y2="269.85" stroke="#8c8c8c" stroke-width="0.9"/>
<line x1="314.40" y1="283.85" x2="316.60" y2="283.85" stroke="#8c8c8c" stroke-width="0.9"/>
<line x1="352.50" y1="253.83" x2="352.50" y2="267.43" stroke="#a6a6a6" stroke-width="1.1"/>
<line x1="351.40" y1="253.83" x2="353.60" y2="253.83" stroke="#8c8c8c" stroke-width="0.9"/>
<line x1="351.40" y1="267.43" x2="353.60" y2="267.43" stroke="#8c8c8c" stroke-width="0.9"/>
<line x1="389.50" y1="234.74" x2="389.50" y2="247.14" stroke="#a6a6a6" stroke-width="1.1"/>
<line x1="388.40" y1="234.74" x2="390.60" y2="234.74" stroke="#8c8c8c" stroke-width="0.9"/>
<line x1="388.40" y1="247.14" x2="390.60" y2="247.14" stroke="#8c8c8c" stroke-width="0.9"/>
<line x1="426.50" y1="208.47" x2="426.50" y2="245.47" stroke="#a6a6a6" stroke-width="1.1"/>
<line x1="425.40" y1="208.47" x2="427.60" y2="208.47" stroke="#8c8c8c" stroke-width="0.9"/>
<line x1="425.40" y1="245.47" x2="427.60" y2="245.47" stroke="#8c8c8c" stroke-width="0.9"/>
<line x1="463.50" y1="216.98" x2="463.50" y2="228.98" stroke="#a6a6a6" stroke-width="1.1"/>
<line x1="462.40" y1="216.98" x2="464.60" y2="216.98" stroke="#8c8c8c" stroke-width="0.9"/>
<line x1="462.40" y1="228.98" x2="464.60" y2="228.98" stroke="#8c8c8c" stroke-width="0.9"/>
<line x1="500.50" y1="211.73" x2="500.50" y2="225.73" stroke="#a6a6a6" stroke-width="1.1"/>
<line x1="499.40" y1="211.73" x2="501.60" y2="211.73" stroke="#8c8c8c" stroke-width="0.9"/>
<line x1="499.40" y1="225.73" x2="501.60" y2="225.73" stroke="#8c8c8c" stroke-width="0.9"/>
<line x1="315.50" y1="269.55" x2="315.50" y2="281.55" stroke="#a6a6a6" stroke-width="1.1"/>
<line x1="314.40" y1="269.55" x2="316.60" y2="269.55" stroke="#8c8c8c" stroke-width="0.9"/>
<line x1="314.40" y1="281.55" x2="316.60" y2="281.55" stroke="#8c8c8c" stroke-width="0.9"/>
<line x1="352.50" y1="252.17" x2="352.50" y2="260.77" stroke="#a6a6a6" stroke-width="1.1"/>
<line x1="351.40" y1="252.17" x2="353.60" y2="252.17" stroke="#8c8c8c" stroke-width="0.9"/>
<line x1="351.40" y1="260.77" x2="353.60" y2="260.77" stroke="#8c8c8c" stroke-width="0.9"/>
<line x1="389.50" y1="225.78" x2="389.50" y2="238.58" stroke="#a6a6a6" stroke-width="1.1"/>
<line x1="388.40" y1="225.78" x2="390.60" y2="225.78" stroke="#8c8c8c" stroke-width="0.9"/>
<line x1="388.40" y1="238.58" x2="390.60" y2="238.58" stroke="#8c8c8c" stroke-width="0.9"/>
<line x1="426.50" y1="200.72" x2="426.50" y2="249.92" stroke="#a6a6a6" stroke-width="1.1"/>
<line x1="425.40" y1="200.72" x2="427.60" y2="200.72" stroke="#8c8c8c" stroke-width="0.9"/>
<line x1="425.40" y1="249.92" x2="427.60" y2="249.92" stroke="#8c8c8c" stroke-width="0.9"/>
<line x1="463.50" y1="209.32" x2="463.50" y2="233.52" stroke="#a6a6a6" stroke-width="1.1"/>
<line x1="462.40" y1="209.32" x2="464.60" y2="209.32" stroke="#8c8c8c" stroke-width="0.9"/>
<line x1="462.40" y1="233.52" x2="464.60" y2="233.52" stroke="#8c8c8c" stroke-width="0.9"/>
<line x1="500.50" y1="206.82" x2="500.50" y2="230.82" stroke="#a6a6a6" stroke-width="1.1"/>
<line x1="499.40" y1="206.82" x2="501.60" y2="206.82" stroke="#8c8c8c" stroke-width="0.9"/>
<line x1="499.40" y1="230.82" x2="501.60" y2="230.82" stroke="#8c8c8c" stroke-width="0.9"/>
<polyline points="315.50,276.85 352.50,260.63 389.50,240.94 426.50,226.97 463.50,222.98 500.50,218.73" fill="none" stroke="#a2a2a2" stroke-width="1.25" stroke-linejoin="round"/>
<circle cx="315.50" cy="276.85" r="1.5" fill="#b4b4b4"/>
<circle cx="352.50" cy="260.63" r="1.5" fill="#b4b4b4"/>
<circle cx="389.50" cy="240.94" r="1.5" fill="#b4b4b4"/>
<circle cx="426.50" cy="226.97" r="1.5" fill="#b4b4b4"/>
<circle cx="463.50" cy="222.98" r="1.5" fill="#b4b4b4"/>
<circle cx="500.50" cy="218.73" r="1.5" fill="#b4b4b4"/>
<polyline points="315.50,275.55 352.50,256.47 389.50,232.18 426.50,225.32 463.50,221.42 500.50,218.82" fill="none" stroke="#1e1e1e" stroke-width="1.35" stroke-linejoin="round"/>
<circle cx="315.50" cy="275.55" r="1.4" fill="#111"/>
<circle cx="352.50" cy="256.47" r="1.4" fill="#111"/>
<circle cx="389.50" cy="232.18" r="1.4" fill="#111"/>
<circle cx="426.50" cy="225.32" r="1.4" fill="#111"/>
<circle cx="463.50" cy="221.42" r="1.4" fill="#111"/>
<circle cx="500.50" cy="218.82" r="1.4" fill="#111"/>
<line x1="306.80" y1="207.50" x2="314.70" y2="207.50" stroke="#1e1e1e" stroke-width="1.3"/>
<circle cx="311.25" cy="207.50" r="1.3" fill="#111"/>
<line x1="306.80" y1="222.20" x2="314.70" y2="222.20" stroke="#a2a2a2" stroke-width="1.3"/>
<circle cx="311.25" cy="222.20" r="1.3" fill="#b0b0b0"/>
<text transform="translate(315.50,211.70) scale(1,1.08)" font-size="7.4" font-weight="bold" text-anchor="start"  stroke="#000" stroke-width="0.3">CD13WT</text>
<text transform="translate(315.50,226.40) scale(1,1.08)" font-size="7.4" font-weight="bold" text-anchor="start"  stroke="#000" stroke-width="0.3">CD13KO</text>
</g>
</svg>
</body></html>
